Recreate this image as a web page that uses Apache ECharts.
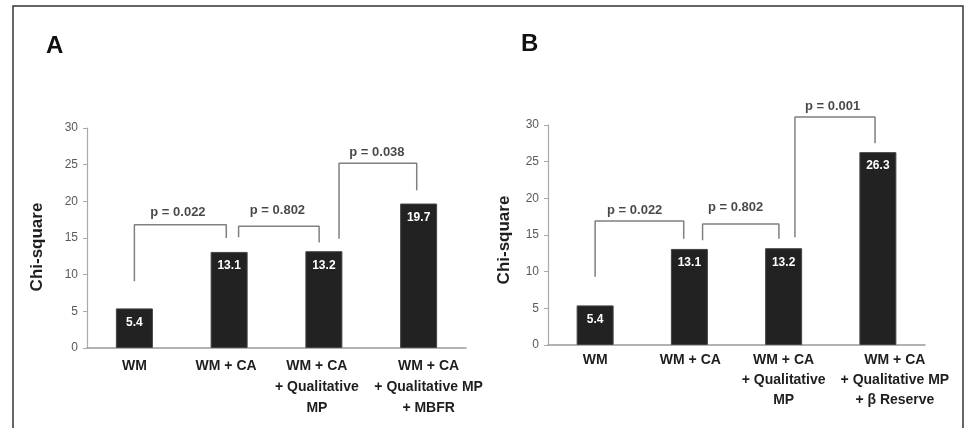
<!DOCTYPE html>
<html>
<head>
<meta charset="utf-8">
<script src="https://cdn.jsdelivr.net/npm/echarts@6/dist/echarts.min.js"></script>
<style>html,body{margin:0;padding:0;background:#fff}#c{width:965px;height:428px}</style>
</head>
<body>
<div id="c"></div>
<script>
// ---- data ----
var categoriesA = ['WM', 'WM + CA', 'WM + CA\n+ Qualitative\nMP', 'WM + CA\n+ Qualitative MP\n+ MBFR'];
var categoriesB = ['WM', 'WM + CA', 'WM + CA\n+ Qualitative\nMP', 'WM + CA\n+ Qualitative MP\n+ β Reserve'];
var valuesA = [5.4, 13.1, 13.2, 19.7];
var valuesB = [5.4, 13.1, 13.2, 26.3];
var yTicks = [0, 5, 10, 15, 20, 25, 30];
// brackets: [xLeft, xRight, yTop, yLeftEnd, yRightEnd] in category units / chi-square units
var bracketsA = [[0, 0.97, 16.8, 9.1, 15.0], [1.10, 1.95, 16.6, 15.1, 14.4], [2.16, 2.98, 25.2, 14.9, 21.5]];
var bracketsB = [[0, 0.94, 16.9, 9.3, 14.5], [1.14, 1.95, 16.5, 14.3, 14.5], [2.12, 2.97, 31.1, 14.7, 27.5]];
// p-value labels: [x, y, text]
var pLabelsA = [[0.46, 18.55, 'p = 0.022'], [1.51, 18.8, 'p = 0.802'], [2.56, 26.7, 'p = 0.038']];
var pLabelsB = [[0.42, 18.35, 'p = 0.022'], [1.49, 18.8, 'p = 0.802'], [2.52, 32.5, 'p = 0.001']];

var FONT = '"Liberation Sans", Arial, sans-serif';

// horizontal nudges (px) of the category labels, as in the reference
var labelShiftA = [0, -3, -7, 10];
var labelShiftB = [0, 1, 0, 17];

function bracketSeries(list, xi, yi) {
  return list.map(function (b) {
    return {
      type: 'line', xAxisIndex: xi, yAxisIndex: yi, clip: false, silent: true,
      symbol: 'none', lineStyle: { color: '#808080', width: 1.5 },
      data: [[b[0], b[3]], [b[0], b[2]], [b[1], b[2]], [b[1], b[4]]],
      z: 3
    };
  });
}
function pSeries(list, xi, yi) {
  return {
    type: 'scatter', xAxisIndex: xi, yAxisIndex: yi, clip: false, silent: true,
    symbolSize: 0,
    data: list.map(function (p) { return { value: [p[0], p[1]], name: p[2] }; }),
    label: { show: true, position: 'inside', formatter: '{b}', color: '#1a1a1a', fontFamily: FONT, fontWeight: 'bold', fontSize: 13 },
    z: 4
  };
}
function catAxis(gi, cats, shifts, margin, lh) {
  return {
    type: 'category', gridIndex: gi,
    data: cats.map(function (c, i) {
      var s = shifts[i];
      return { value: c, textStyle: { padding: s >= 0 ? [0, 0, 0, 2 * s] : [0, -2 * s, 0, 0] } };
    }),
    axisLine: { lineStyle: { color: '#999', width: 1.5 } },
    axisTick: { show: false },
    axisLabel: { interval: 0, margin: margin, color: '#1e1e1e', fontFamily: FONT, fontWeight: 'bold', fontSize: 14, lineHeight: lh }
  };
}
function valXAxis(gi) {
  return { type: 'value', gridIndex: gi, min: -0.5, max: 3.5, show: false };
}
function yAxis(gi, gap, pad) {
  return {
    type: 'value', gridIndex: gi, min: 0, max: 30, interval: 5,
    name: 'Chi-square', nameLocation: 'middle', nameRotate: 90, nameGap: gap,
    nameTextStyle: { color: '#1e1e1e', fontFamily: FONT, fontWeight: 'bold', fontSize: 17, padding: [0, pad, 0, 0] },
    axisLine: { show: true, onZero: false, lineStyle: { color: '#aaa', width: 1.2 } },
    axisTick: { show: true, length: 4, lineStyle: { color: '#aaa' } },
    splitLine: { show: false },
    axisLabel: {
      color: '#5a5a5a', fontFamily: FONT, fontSize: 12, margin: 9,
      formatter: function (v) { return yTicks.indexOf(v) >= 0 ? String(v) : ''; }
    }
  };
}
function barSeries(vals, xi, yi) {
  return {
    type: 'bar', xAxisIndex: xi, yAxisIndex: yi, data: vals, barWidth: 37,
    itemStyle: { color: '#222', borderColor: '#444', borderWidth: 1 },
    label: { show: true, position: 'insideTop', distance: 8, color: '#fff', fontFamily: FONT, fontWeight: 'bold', fontSize: 12,
      formatter: function (p) { return p.value.toFixed(1); } },
    z: 2
  };
}

var chart = echarts.init(document.getElementById('c'), null, { renderer: 'canvas' });
chart.setOption({
  animation: false,
  backgroundColor: '#fff',
  grid: [
    { left: 87, top: 128, width: 379, height: 220 },
    { left: 548, top: 125, width: 377, height: 220 }
  ],
  xAxis: [catAxis(0, categoriesA, labelShiftA, 8, 21), catAxis(1, categoriesB, labelShiftB, 5, 20), valXAxis(0), valXAxis(1)],
  yAxis: [yAxis(0, 41, 18), yAxis(1, 35, 10)],
  graphic: [
    { type: 'rect', shape: { x: 13, y: 6, width: 950, height: 440 }, style: { fill: 'none', stroke: '#333', lineWidth: 1.5 }, silent: true },
    { type: 'text', left: 46, top: 34, style: { text: 'A', font: 'bold 24px ' + FONT, fill: '#111' } },
    { type: 'text', left: 521, top: 32, style: { text: 'B', font: 'bold 24px ' + FONT, fill: '#111' } }
  ],
  series: [barSeries(valuesA, 0, 0), barSeries(valuesB, 1, 1)]
    .concat(bracketSeries(bracketsA, 2, 0))
    .concat(bracketSeries(bracketsB, 3, 1))
    .concat([pSeries(pLabelsA, 2, 0), pSeries(pLabelsB, 3, 1)])
});
</script>
</body>
</html>
